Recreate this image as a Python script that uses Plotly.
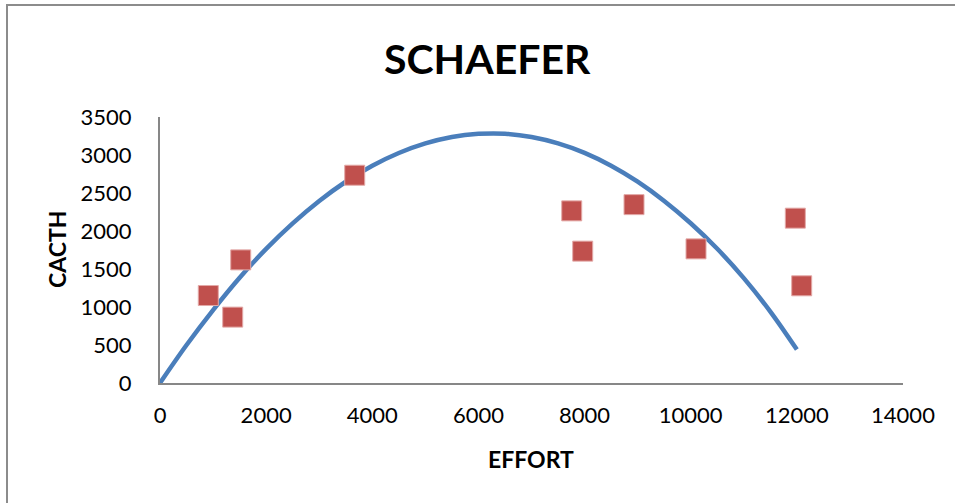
import plotly.graph_objects as go

# Observed data (effort, catch)
effort = [910, 1370, 1521, 3669, 7758, 7965, 8932, 10100, 11971, 12091]
catch = [1151, 867, 1620, 2734, 2265, 1735, 2347, 1765, 2169, 1279]

# Fitted Schaefer curve
curve_effort = [0, 500, 1000, 1500, 2000, 2500, 3000, 3500, 4000, 4500, 5000, 5500,
                6000, 6500, 7000, 7500, 8000, 8500, 9000, 9500, 10000, 10500, 11000,
                11500, 12000]
curve_catch = [0, 500, 960, 1385, 1765, 2100, 2395, 2648, 2858, 3026, 3152, 3237,
               3278, 3280, 3237, 3153, 3028, 2859, 2649, 2396, 2102, 1766, 1380,
               940, 440]

x_ticks = [0, 2000, 4000, 6000, 8000, 10000, 12000, 14000]
y_ticks = [0, 500, 1000, 1500, 2000, 2500, 3000, 3500]

TICK_FONT = dict(family="Lato, Liberation Sans, Arial, sans-serif", size=22, color="#000000")
BOLD_FAMILY = "Lato, Liberation Sans, Arial, sans-serif"

W, H = 955, 503
# desired plot area in page pixels: x 160..903, y 117..383
L, T = 160, 117
pw, ph = 743, 266
R = W - L - pw
B = H - T - ph

def px_x(p):
    return (p - L) / pw

def px_y(p):
    return (T + ph - p) / ph

fig = go.Figure()
fig.add_trace(go.Scatter(
    x=curve_effort, y=curve_catch, mode="lines",
    line=dict(color="#4A7EBB", width=4.5, shape="spline"),
    hoverinfo="skip", showlegend=False))
fig.add_trace(go.Scatter(
    x=effort, y=catch, mode="markers",
    marker=dict(symbol="square", size=20, color="#C0504D",
                line=dict(color="#E3A9A7", width=1)),
    showlegend=False))

fig.update_layout(
    width=W, height=H,
    margin=dict(l=L, r=R, t=T, b=B, pad=0),
    paper_bgcolor="white", plot_bgcolor="white",
    showlegend=False,
    xaxis=dict(range=[0, 14000], tickvals=x_ticks, ticktext=[str(v) for v in x_ticks],
               showgrid=False, zeroline=False, showline=True, linecolor="#878787",
               linewidth=2, ticks="", tickfont=TICK_FONT, ticklabelstandoff=12),
    yaxis=dict(range=[0, 3500], tickvals=y_ticks, ticktext=[str(v) for v in y_ticks],
               showgrid=False, zeroline=False, showline=True, linecolor="#878787",
               linewidth=2, ticks="", tickfont=TICK_FONT, ticklabelstandoff=22),
    shapes=[dict(type="rect", xref="paper", yref="paper",
                 x0=px_x(7), x1=px_x(1000), y0=px_y(540), y1=px_y(5),
                 line=dict(color="#8C8C8C", width=2), fillcolor="rgba(0,0,0,0)",
                 layer="below")],
    annotations=[
        dict(text="<b>SCHAEFER</b>", xref="paper", yref="paper",
             x=px_x(487), y=px_y(58), xanchor="center", yanchor="middle",
             showarrow=False, font=dict(family=BOLD_FAMILY, size=41, color="#000000")),
        dict(text="<b>EFFORT</b>", xref="paper", yref="paper",
             x=px_x(531), y=px_y(459), xanchor="center", yanchor="middle",
             showarrow=False, font=dict(family=BOLD_FAMILY, size=23, color="#000000")),
        dict(text="<b>CACTH</b>", xref="paper", yref="paper",
             x=px_x(57), y=px_y(250), xanchor="center", yanchor="middle",
             textangle=-90, showarrow=False,
             font=dict(family=BOLD_FAMILY, size=23, color="#000000")),
    ],
)

fig.write_html("out.html",
               config={"displayModeBar": False},
               post_script="document.body.style.margin='0';document.body.style.overflow='hidden';")
